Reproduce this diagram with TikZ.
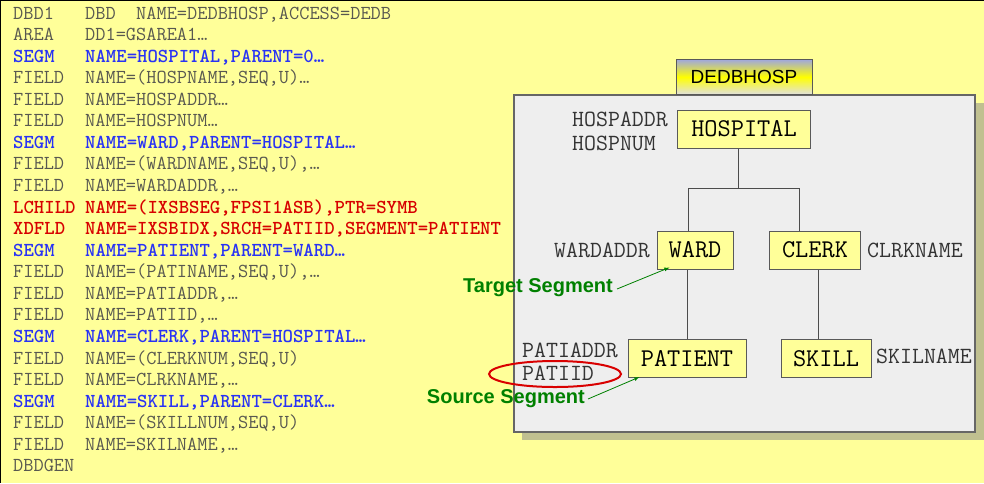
\documentclass[tikz,border=0pt]{standalone}
\usepackage{fontspec}
\setmainfont{Liberation Sans}
\usetikzlibrary{calc}

% colours taken from the slide
\definecolor{slideyellow}{RGB}{255,255,153}
\definecolor{codegray}{RGB}{88,88,80}
\definecolor{codeblue}{RGB}{40,50,245}
\definecolor{codered}{RGB}{215,0,0}
\definecolor{panelgray}{RGB}{238,238,238}
\definecolor{shadowolive}{RGB}{192,192,144}
\definecolor{tabblue}{RGB}{160,168,220}
\definecolor{notegreen}{RGB}{0,128,0}

\begin{document}
\begin{tikzpicture}[x=1pt,y=-1pt,
  codeplain/.style={inner sep=0pt,text=codegray,font=\ttfamily\fontsize{19.8}{21}\selectfont},
  codesegm/.style={codeplain,text=codeblue,font=\ttfamily\bfseries\fontsize{19.8}{21}\selectfont},
  codeidx/.style={codeplain,text=codered,font=\ttfamily\bfseries\fontsize{19.8}{21}\selectfont},
  segbox/.style={draw=black!65,line width=1pt,fill=slideyellow,minimum height=38pt,inner sep=0pt,
    font=\ttfamily\fontsize{25.6}{26}\selectfont},
  fieldlbl/.style={inner sep=0pt,anchor=west,text=black!80,font=\ttfamily\fontsize{23.2}{24}\selectfont},
  notelbl/.style={inner sep=0pt,text=notegreen,font=\bfseries\fontsize{20}{22}\selectfont},
  notearrow/.style={draw=notegreen,line width=0.8pt,-latex}]

% background of the slide
\useasboundingbox (0,0) rectangle (984,483);
\fill[slideyellow] (0,0) rectangle (984,483);
\draw[line width=2pt] (0,483) -- (0,0) -- (984,0);

% DBD source listing, one row per statement
\foreach \kw/\arg/\sty [count=\i from 0] in {
  DBD1/{DBD~~NAME=DEDBHOSP,ACCESS=DEDB}/codeplain,
  AREA/{DD1=GSAREA1…}/codeplain,
  SEGM/{NAME=HOSPITAL,PARENT=0…}/codesegm,
  FIELD/{NAME=(HOSPNAME,SEQ,U)…}/codeplain,
  FIELD/{NAME=HOSPADDR…}/codeplain,
  FIELD/{NAME=HOSPNUM…}/codeplain,
  SEGM/{NAME=WARD,PARENT=HOSPITAL…}/codesegm,
  FIELD/{NAME=(WARDNAME,SEQ,U),…}/codeplain,
  FIELD/{NAME=WARDADDR,…}/codeplain,
  LCHILD/{NAME=(IXSBSEG,FPSI1ASB),PTR=SYMB}/codeidx,
  XDFLD/{NAME=IXSBIDX,SRCH=PATIID,SEGMENT=PATIENT}/codeidx,
  SEGM/{NAME=PATIENT,PARENT=WARD…}/codesegm,
  FIELD/{NAME=(PATINAME,SEQ,U),…}/codeplain,
  FIELD/{NAME=PATIADDR,…}/codeplain,
  FIELD/{NAME=PATIID,…}/codeplain,
  SEGM/{NAME=CLERK,PARENT=HOSPITAL…}/codesegm,
  FIELD/{NAME=(CLERKNUM,SEQ,U)}/codeplain,
  FIELD/{NAME=CLRKNAME,…}/codeplain,
  SEGM/{NAME=SKILL,PARENT=CLERK…}/codesegm,
  FIELD/{NAME=(SKILLNUM,SEQ,U)}/codeplain,
  FIELD/{NAME=SKILNAME,…}/codeplain,
  DBDGEN/{}/codeplain}
{
  \node[\sty,anchor=base west] (kw\i) at (13,{19+21.57*\i}) {\kw};
  \node[\sty,anchor=base west] (arg\i) at (85,{19+21.57*\i}) {\arg};
}

% database panel with its shadow
\fill[shadowolive] (522,103) rectangle (984,440);
\draw[draw=black!60,line width=1.5pt,fill=panelgray] (514,95) rectangle (975,432);

% database name tab
\node[draw=black!65,line width=1pt,minimum width=136pt,minimum height=35pt,
  top color=tabblue,bottom color=black!12,middle color=yellow,
  font=\fontsize{19}{20}\selectfont] (dbname) at (744,77) {DEDBHOSP};

% segments of the hierarchy
\node[segbox,minimum width=133pt] (hosp) at (744,129) {HOSPITAL};
\node[segbox,minimum width=76pt] (ward) at (695,250) {WARD};
\node[segbox,minimum width=91pt] (clerk) at (815,250) {CLERK};
\node[segbox,minimum width=118pt] (patient) at (687,358.5) {PATIENT};
\node[segbox,minimum width=90pt] (skill) at (826,358.5) {SKILL};

% tree lines
\coordinate (hj) at (738,188);
\coordinate (wj) at (688,188);
\coordinate (cj) at (799,188);
\draw[black!70,line width=1pt] (hj |- hosp.south) -- (hj);
\draw[black!70,line width=1pt] (wj |- ward.north) -- (wj) -- (cj) -- (cj |- clerk.north);
\draw[black!70,line width=1pt] (patient.north) -- (patient.north |- ward.south);
\draw[black!70,line width=1pt] (818,0 |- skill.north) -- (818,0 |- clerk.south);

% field names beside the segments
\node[fieldlbl] (hospaddr) at (572,119) {HOSPADDR};
\node[fieldlbl] (hospnum) at (572,143) {HOSPNUM};
\node[fieldlbl] (wardaddr) at (554,250) {WARDADDR};
\node[fieldlbl] (clrkname) at (867,250) {CLRKNAME};
\node[fieldlbl] (patiaddr) at (522,350) {PATIADDR};
\node[fieldlbl] (patiid) at (522,373) {PATIID};
\node[fieldlbl] (skilname) at (876,356) {SKILNAME};

% the search field is circled
\draw[color=red!85!black,line width=2pt] (555,374) ellipse [x radius=66pt,y radius=13pt];

% target and source notes
\node[notelbl,anchor=east] (target) at (613,288) {Target Segment};
\node[notelbl,anchor=east] (source) at (585,399) {Source Segment};
\draw[notearrow] ($(target.east)+(4,1)$) -- ($(ward.south west)+(13,-2)$);
\draw[notearrow] ($(source.east)+(3,0)$) -- ($(patient.south west)+(12,-1)$);

\end{tikzpicture}
\end{document}
